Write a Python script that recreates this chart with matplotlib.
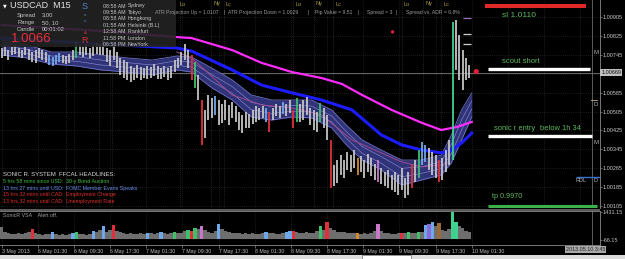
"""
plot.py
Rebuilds a MetaTrader USDCAD M15 screenshot (Sonic R system) with matplotlib.
"""
import matplotlib
matplotlib.use("Agg")
import matplotlib.pyplot as plt
from matplotlib.patches import Rectangle
import numpy as np

plt.rcParams['font.family'] = ['Liberation Sans', 'DejaVu Sans']

W, H = 625, 259
BAR_STEP = 3  # each entry in the price / volume lists covers three M15 bars

# price bars
highs = [
    1.00774, 1.00782, 1.00765, 1.00778, 1.00787, 1.00774, 1.00765, 1.00778, 1.00770, 1.00757,
    1.00765, 1.00774, 1.00765, 1.00757, 1.00744, 1.00736, 1.00744, 1.00753, 1.00744, 1.00740,
    1.00749, 1.00765, 1.00799, 1.00787, 1.00778, 1.00787, 1.00774, 1.00787, 1.00795, 1.00791,
    1.00808, 1.00774, 1.00765, 1.00787, 1.00757, 1.00732, 1.00723, 1.00715, 1.00698, 1.00689,
    1.00702, 1.00694, 1.00689, 1.00698, 1.00694, 1.00706, 1.00698, 1.00689, 1.00698, 1.00689,
    1.00698, 1.00723, 1.00732, 1.00757, 1.00791, 1.00765, 1.00744, 1.00715, 1.00660, 1.00554,
    1.00512, 1.00575, 1.00562, 1.00571, 1.00554, 1.00537, 1.00554, 1.00533, 1.00546, 1.00529,
    1.00503, 1.00491, 1.00503, 1.00495, 1.00512, 1.00529, 1.00520, 1.00529, 1.00520, 1.00503,
    1.00520, 1.00537, 1.00529, 1.00546, 1.00537, 1.00554, 1.00512, 1.00562, 1.00537, 1.00554,
    1.00567, 1.00520, 1.00512, 1.00503, 1.00541, 1.00520, 1.00491, 1.00385, 1.00279, 1.00300,
    1.00321, 1.00300, 1.00334, 1.00321, 1.00342, 1.00309, 1.00317, 1.00300, 1.00326, 1.00309,
    1.00283, 1.00300, 1.00266, 1.00249, 1.00258, 1.00237, 1.00249, 1.00237, 1.00266, 1.00224,
    1.00249, 1.00279, 1.00300, 1.00342, 1.00376, 1.00364, 1.00351, 1.00334, 1.00321, 1.00300,
    1.00309, 1.00342, 1.00385, 1.00884, 1.00892, 1.00829, 1.00765, 1.00732, 1.00702,
]
lows = [
    1.00732, 1.00740, 1.00723, 1.00744, 1.00749, 1.00736, 1.00732, 1.00744, 1.00723, 1.00715,
    1.00711, 1.00732, 1.00723, 1.00715, 1.00702, 1.00698, 1.00706, 1.00715, 1.00711, 1.00706,
    1.00711, 1.00723, 1.00732, 1.00744, 1.00736, 1.00744, 1.00732, 1.00740, 1.00749, 1.00744,
    1.00744, 1.00715, 1.00698, 1.00723, 1.00689, 1.00660, 1.00647, 1.00639, 1.00630, 1.00639,
    1.00647, 1.00639, 1.00647, 1.00643, 1.00647, 1.00656, 1.00643, 1.00643, 1.00651, 1.00639,
    1.00647, 1.00672, 1.00689, 1.00702, 1.00723, 1.00689, 1.00639, 1.00605, 1.00554, 1.00364,
    1.00393, 1.00469, 1.00478, 1.00491, 1.00448, 1.00457, 1.00469, 1.00448, 1.00478, 1.00461,
    1.00427, 1.00414, 1.00436, 1.00436, 1.00452, 1.00461, 1.00469, 1.00478, 1.00461, 1.00419,
    1.00469, 1.00486, 1.00478, 1.00495, 1.00486, 1.00499, 1.00436, 1.00461, 1.00461, 1.00469,
    1.00491, 1.00448, 1.00427, 1.00419, 1.00461, 1.00436, 1.00385, 1.00182, 1.00190, 1.00203,
    1.00237, 1.00224, 1.00258, 1.00249, 1.00266, 1.00237, 1.00249, 1.00224, 1.00249, 1.00232,
    1.00216, 1.00207, 1.00199, 1.00190, 1.00182, 1.00173, 1.00165, 1.00152, 1.00173, 1.00139,
    1.00152, 1.00182, 1.00207, 1.00224, 1.00279, 1.00292, 1.00258, 1.00237, 1.00224, 1.00207,
    1.00216, 1.00249, 1.00279, 1.00300, 1.00681, 1.00639, 1.00596, 1.00639, 1.00647,
]

# volume histogram (SonicR VSA)
volumes = [
    620, 380, 300, 280, 260, 300, 270, 320, 350, 520,
    300, 250, 220, 260, 240, 360, 260, 230, 250, 220,
    260, 330, 380, 280, 250, 230, 260, 420, 380, 500,
    720, 400, 480, 760, 420, 360, 300, 280, 320, 290,
    260, 300, 280, 340, 300, 270, 320, 360, 300, 280,
    320, 380, 320, 300, 420, 500, 450, 600, 520, 720,
    480, 380, 340, 420, 820, 560, 420, 380, 340, 300,
    320, 280, 300, 270, 320, 290, 260, 300, 380, 320,
    300, 280, 260, 300, 360, 420, 430, 380, 330, 300,
    350, 320, 300, 420, 700, 480, 920, 600, 480, 400,
    380, 350, 330, 310, 300, 320, 290, 300, 280, 300,
    420, 820, 420, 330, 300, 280, 260, 300, 340, 320,
    360, 330, 300, 380, 400, 760, 820, 900, 700, 880,
    500, 450, 550, 1430, 900, 700, 600, 450, 350,
]

GREEN, RED, LBLUE = '#3fbf6a', '#e0303a', '#6fa8e8'
ORANGE, PINK, PURPLE, BROWN, MINT = '#d08a30', '#c878c8', '#8a6ad8', '#9a6a3a', '#40d090'

bar_colors = {14: LBLUE, 15: LBLUE, 16: LBLUE, 17: LBLUE, 22: GREEN, 56: RED, 57: GREEN,
              59: RED, 63: LBLUE, 78: LBLUE, 79: RED, 83: LBLUE, 86: RED, 87: GREEN,
              94: GREEN, 97: RED, 105: ORANGE, 111: PINK, 121: RED, 123: GREEN,
              124: LBLUE, 125: LBLUE, 129: RED, 133: MINT}
vol_colors = {9: RED, 15: LBLUE, 21: LBLUE, 22: GREEN, 27: LBLUE, 30: LBLUE, 33: RED,
              43: LBLUE, 47: LBLUE, 51: GREEN, 55: GREEN, 56: RED, 57: GREEN, 59: PINK,
              64: LBLUE, 78: LBLUE, 84: LBLUE, 85: LBLUE, 86: RED, 94: GREEN, 96: RED,
              105: ORANGE, 111: PINK, 118: RED, 120: GREEN, 123: GREEN, 125: LBLUE,
              126: PURPLE, 127: LBLUE, 129: BROWN, 133: MINT, 134: MINT}

# moving averages (bar index -> price)
ema_bars = [0, 88, 155, 168, 204, 230, 257, 283, 301, 319, 345, 372, 389, 403, 416]
ema_magenta = [1.00871, 1.00846, 1.00820, 1.00816, 1.00765, 1.00711, 1.00672, 1.00647,
               1.00622, 1.00575, 1.00512, 1.00457, 1.00427, 1.00440, 1.00461]
blue_bars = [0, 88, 155, 168, 204, 230, 257, 283, 310, 336, 354, 372, 389, 398, 407, 416]
ema_blue = [1.00816, 1.00791, 1.00774, 1.00761, 1.00681, 1.00617, 1.00584, 1.00554,
            1.00512, 1.00406, 1.00364, 1.00342, 1.00330, 1.00342, 1.00372, 1.00414]
thin_bars = [155, 168, 204, 230, 257, 283, 310, 336, 354, 372, 389, 396]
ema_thin = [1.00757, 1.00732, 1.00575, 1.00533, 1.00520, 1.00491, 1.00385, 1.00330,
            1.00292, 1.00271, 1.00279, 1.00292]

# dragon band
band_bars = [0, 22, 44, 66, 88, 111, 133, 155, 168, 186, 204, 221, 239, 257, 274, 292,
             305, 319, 336, 354, 372, 389, 398, 407, 416]
band_upper = [1.00808, 1.00787, 1.00757, 1.00757, 1.00744, 1.00732, 1.00723, 1.00740,
              1.00736, 1.00689, 1.00639, 1.00575, 1.00554, 1.00554, 1.00554, 1.00512,
              1.00448, 1.00385, 1.00342, 1.00300, 1.00300, 1.00321, 1.00406, 1.00512, 1.00584]
band_lower = [1.00744, 1.00732, 1.00706, 1.00698, 1.00681, 1.00672, 1.00660, 1.00681,
              1.00672, 1.00605, 1.00554, 1.00482, 1.00469, 1.00482, 1.00478, 1.00436,
              1.00364, 1.00300, 1.00258, 1.00194, 1.00216, 1.00237, 1.00288, 1.00385, 1.00482]

# levels and markers
current_price = 1.00669
price_ticks = [1.00105, 1.00185, 1.00265, 1.00345, 1.00425, 1.00505, 1.00585,
               1.00665, 1.00745, 1.00825, 1.00905]
trade_levels = [1.00953, 1.00683, 1.00402, 1.00104]   # sl, scout short, entry, tp
trade_colors = ['#e02828', 'white', 'white', '#3cb04a']
pivot_levels = [1.00901, 1.00833, 1.00791]
rdl_level = 1.00228
dot_bars = [420, 346]
dot_prices = [1.00674, 1.00842]
session_bars = [57, 86, 98, 158, 185, 197, 258, 276, 293, 354, 373, 389]

time_labels = ["3 May 2013", "6 May 01:30", "6 May 09:30", "6 May 17:30", "7 May 01:30",
               "7 May 09:30", "7 May 17:30", "8 May 01:30", "8 May 09:30", "8 May 17:30",
               "9 May 01:30", "9 May 09:30", "9 May 17:30", "10 May 01:30"]
vol_ticks = [1431.15, -66.15]

session_times = ["08:58 AM", "09:58 AM", "08:58 AM", "01:58 AM", "12:58 AM", "11:58 PM", "06:58 PM"]
session_cities = ["Sydney", "Tokyo", "Hongkong", "Helsinki (B.L)", "Frankfurt", "London", "NewYork"]

headlines = [("5 hrs 58 mins since USD:", "30-y Bond Auction", '#3fbf3f'),
             ("13 hrs 27 mins until USD:", "FOMC Member Evans Speaks", '#6a8ff0'),
             ("15 hrs 32 mins until CAD:", "Employment Change", '#e0302a'),
             ("13 hrs 32 mins until CAD:", "Unemployment Rate", '#e0302a')]


def px_axes(fig, x, y, w, h, **kw):
    """Add an axes placed in screenshot pixels (origin top-left)."""
    return fig.add_axes([x / W, 1 - (y + h) / H, w / W, h / H], **kw)


def draw():
    fig = plt.figure(figsize=(W / 100, H / 100), dpi=100, facecolor='black')
    x_lim = (-1.5, 529.5)
    tick_bars = np.arange(0, 530, 32)
    xs = np.arange(len(highs)) * BAR_STEP

    # ---- main price window ----
    ax = px_axes(fig, 0, 0, 600, 208)
    ax.set_facecolor('black')
    ax.set_xlim(*x_lim)
    ax.set_ylim(1.00097, 1.00977)
    ax.set_xticks(tick_bars)
    ax.set_yticks(price_ticks)
    # the bid box sits on top of the tick nearest the current price
    ax.set_yticklabels(["" if abs(p - current_price) < 0.0001 else f"{p:.5f}"
                        for p in price_ticks])
    ax.grid(True, color='#363636', ls=(0, (1, 2)), lw=0.5)
    ax.tick_params(axis='x', length=0, labelbottom=False)
    ax.yaxis.tick_right()
    ax.tick_params(axis='y', colors='#8a8a8a', labelcolor='#c8c8c8', labelsize=4.0,
                   length=1.5, width=0.5, pad=0.6)
    for s in ax.spines.values():
        s.set_visible(False)
    ax.spines['right'].set_visible(True)
    ax.spines['right'].set_color('#8a8a8a')
    ax.spines['right'].set_linewidth(0.6)

    for b in session_bars:
        ax.axvline(b, color='#4a4a4a', ls=(0, (1, 2)), lw=0.5, zorder=0)
    ax.axvline(522, color='#6a6a6a', lw=0.6)
    ax.axhline(current_price, color='#787878', lw=0.6, zorder=1)

    # dragon band
    up, lo = np.array(band_upper), np.array(band_lower)
    ax.fill_between(band_bars, lo, up, color='#3a3d8e', alpha=0.85, lw=0, zorder=2)
    ax.plot(band_bars, up, color='#6d72c8', lw=0.6, zorder=2)
    ax.plot(band_bars, lo, color='#6d72c8', lw=0.6, zorder=2)
    ax.plot(band_bars, up * 2 / 3 + lo / 3, color='#8d92dc', lw=0.4, zorder=2)
    ax.plot(band_bars, up / 3 + lo * 2 / 3, color='#8d92dc', lw=0.4, zorder=2)

    # moving averages
    ax.plot(thin_bars, ema_thin, color='#a04a90', lw=0.7, zorder=3)
    ax.plot(ema_bars, ema_magenta, color='#ff2cff', lw=1.6, zorder=3)
    ax.plot(blue_bars, ema_blue, color='#1c1cff', lw=2.2, zorder=3)

    # price bars
    colors = [bar_colors.get(i, '#c4c4c4') for i in range(len(highs))]
    ax.vlines(xs, lows, highs, colors=colors, lw=1.3, zorder=4)

    # trade lines and markers
    spans = [(428, 517), (430, 521), (430, 522), (430, 527)]
    widths = [2.9, 2.4, 2.4, 2.2]
    for lvl, c, (a, b), lw in zip(trade_levels, trade_colors, spans, widths):
        ax.hlines(lvl, a, b, color=c, lw=lw, zorder=5)
    for lvl, c in zip(pivot_levels, ['#9070b0', '#d0d0d0', '#d0d0d0']):
        ax.hlines(lvl, 408, 415, color=c, lw=0.9, zorder=5)
    ax.hlines(rdl_level, 508, 530, color='#3a70d0', lw=1.0, zorder=5)
    ax.scatter(dot_bars, dot_prices, s=[14, 6], color='#e0203a', lw=0, zorder=6)

    ax.text(1.002, current_price, f"{current_price:.5f}", transform=ax.get_yaxis_transform(),
            fontsize=4.0, color='#101010', va='center', ha='left', clip_on=False,
            bbox=dict(boxstyle='square,pad=0.15', fc='#c0c0c0', ec='none'))

    # ---- volume window ----
    av = px_axes(fig, 0, 211, 600, 34)
    av.set_facecolor('black')
    av.set_xlim(*x_lim)
    av.set_ylim(-330, 1510)
    vcolors = [vol_colors.get(i, '#6e6e6e') for i in range(len(volumes))]
    av.bar(xs, volumes, width=BAR_STEP, color=vcolors, lw=0, zorder=3)
    av.set_xticks(tick_bars[:len(time_labels)])
    av.set_xticklabels(time_labels, ha='left')
    av.set_yticks(vol_ticks)
    av.set_yticklabels([f"{v:.2f}" for v in vol_ticks])
    av.yaxis.tick_right()
    av.grid(True, axis='x', color='#363636', ls=(0, (1, 2)), lw=0.5)
    av.tick_params(axis='x', colors='#8a8a8a', labelcolor='#c0c0c0', labelsize=3.8,
                   length=2, width=0.5, pad=1)
    av.tick_params(axis='y', colors='#8a8a8a', labelcolor='#c0c0c0', labelsize=4.0,
                   length=1.5, width=0.5, pad=0.6)
    av.axvline(522, color='#6a6a6a', lw=0.6)
    av.spines['left'].set_visible(False)
    for k in ('top', 'bottom', 'right'):
        av.spines[k].set_color('#8a8a8a')
        av.spines[k].set_linewidth(0.6)

    # ---- overlay for panels and labels (pixel coords) ----
    ov = fig.add_axes([0, 0, 1, 1], zorder=20)
    ov.set_xlim(0, W)
    ov.set_ylim(H, 0)
    ov.axis('off')
    ov.patch.set_alpha(0)

    def t(x, y, s, c='#c8c8c8', size=3.8, **kw):
        ov.text(x, y, s, color=c, fontsize=size, va='center', ha=kw.pop('ha', 'left'), **kw)

    # top info line
    gray = '#9a9a9a'
    t(219, 12.5, "ATR Projection Up = 1.0107", gray, 3.7, ha='right')
    for x, s in [(223, "|"), (228, "ATR Projection Down = 1.0029"), (307, "|"),
                 (315, "Pip Value = 9.51"), (358, "|"), (367, "Spread = 3"), (395, "|"),
                 (406, "Spread vs. ADR = 6.8%")]:
        t(x, 12.5, s, gray, 3.7)

    # session markers
    for x, s in [(180, "Lo"), (213, "Ny"), (226, "Lc"), (295, "Lo"), (316, "Ny"),
                 (335, "Lc"), (404, "Lo"), (425, "Ny"), (443, "Lc")]:
        t(x, 4, s, '#a89f40', 4)

    # info panel
    ov.add_patch(Rectangle((0, 0), 176, 47, fc='#232323', ec='none', alpha=0.9, zorder=1))
    ov.text(3, 6, "\u25bc", color='white', fontsize=3.5, va='center',
            family=['DejaVu Sans'], zorder=2)
    t(10, 6, "USDCAD  M15", '#e4e4e4', 6.5, zorder=2)
    for y, a, b in [(15.5, "Spread", "3.00"), (22.5, "Range", "50, 10"),
                    (29.5, "Candle", "00:01:02")]:
        t(17, y, a, '#c8c8c8', 4.2, zorder=2)
        t(42, y, b, '#c8c8c8', 4.2, zorder=2)
    t(11, 39.5, "1.0066", '#e8303a', 9.5, zorder=2)
    t(85, 6.5, "S", '#4f86c6', 6.5, ha='center', zorder=2)
    t(85, 14.5, "o", '#4f86c6', 3.2, ha='center', zorder=2)
    t(85, 20.5, "n", '#4f86c6', 3.2, ha='center', zorder=2)
    t(85, 32.5, "A", '#d03030', 3.2, ha='center', zorder=2)
    t(85, 40.5, "R", '#d03030', 6.5, ha='center', zorder=2)
    for i, (tm, city) in enumerate(zip(session_times, session_cities)):
        y = 6 + i * 6.4
        t(103, y, tm, '#c8c8c8', 3.8, zorder=2)
        t(128, y, city, '#c8c8c8', 3.8, zorder=2)

    # trade notes
    note = '#5cb85c'
    t(502, 15.5, "sl 1.0110", note, 6)
    t(502, 61.5, "scout short", note, 5.5)
    t(494, 128.5, "sonic r entry", note, 5.4)
    t(540, 129, "below 1h 34", note, 5.4)
    t(492, 197, "tp 0.9970", note, 5.2)
    t(594, 53, "M", '#b0b0b0', 4.3)
    t(594, 104, "D", '#b0b0b0', 4.3)
    ov.plot([591, 597], [100, 100], color='#c0b080', lw=0.6)
    t(594, 143, "M", '#b0b0b0', 4.3)
    t(576, 181, "RDL", '#b0b0b0', 4.0)
    t(593, 181, "D", '#b0b0b0', 4.0)

    # headlines
    t(3, 175, "SONIC R. SYSTEM  FFCAL HEADLINES:", '#d8d8d8', 4.3)
    for i, (a, b, c) in enumerate(headlines):
        y = 181.7 + i * 6.5
        t(3, y, a, c, 3.8)
        t(66, y, b, c, 3.8)

    # window separator, sub window caption, bottom bits
    ov.add_patch(Rectangle((0, 208.5), 600, 2, fc='#5a5a5a', ec='none'))
    t(3, 215.5, "SonicR VSA    Alert off.", '#a0a0a0', 3.8)
    t(566, 249.5, "2013.05.10 3:45", '#202020', 3.9,
      bbox=dict(boxstyle='square,pad=0.2', fc='#a8a8a8', ec='none'))
    ov.add_patch(Rectangle((0, 255), W, 4, fc='#dcdcdc', ec='none'))
    ov.add_patch(Rectangle((362, 254.5), 49, 4.5, fc='white', ec='#707070', lw=0.5))

    fig.savefig("out.png", dpi=100, facecolor='black')
    print("Saved out.png")


if __name__ == "__main__":
    draw()
